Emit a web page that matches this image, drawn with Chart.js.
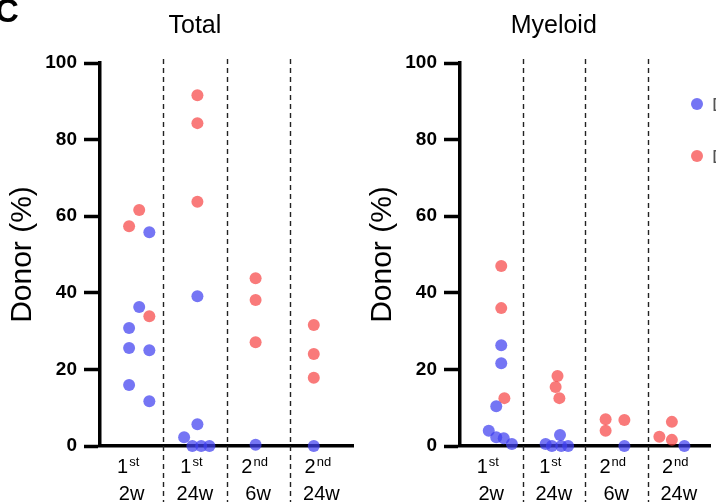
<!DOCTYPE html>
<html>
<head>
<meta charset="utf-8">
<script src="https://cdn.jsdelivr.net/npm/chart.js@4.4.0/dist/chart.umd.min.js"></script>
<style>
  html, body { margin: 0; padding: 0; background: #fff; }
  body { width: 716px; height: 502px; overflow: hidden; position: relative; }
  .panel { position: absolute; top: 0; height: 502px; }
  #totalPanel { left: 0; width: 360px; }
  #myeloidPanel { left: 360px; width: 356px; }
</style>
</head>
<body>
<div class="panel" id="totalPanel"><canvas id="totalChart" width="360" height="502"></canvas></div>
<div class="panel" id="myeloidPanel"><canvas id="myeloidChart" width="356" height="502"></canvas></div>
<script>
// x categories: transplant round (with ordinal suffix) and time point
const rounds = ["1", "1", "2", "2"];
const roundSuffix = ["st", "st", "nd", "nd"];
const weeks = ["2w", "24w", "6w", "24w"];
const yTicks = [0, 20, 40, 60, 80, 100];
const groupLabels = ["Donor A", "Donor B"];

// Total - blue group (category index, % donor, horizontal spread)
const totalBlueCat = [0, 0, 0, 0, 0, 0, 0, 1, 1, 1, 1, 1, 1, 2, 3];
const totalBlueVal = [55.8, 36.3, 30.8, 25.6, 25.0, 15.9, 11.7, 39.1, 5.7, 2.3, 0, 0, 0, 0.3, 0];
const totalBlueJit = [0.28, 0.12, -0.04, -0.04, 0.28, -0.04, 0.28, 0.04, 0.04, -0.17, -0.04, 0.1, 0.23, -0.04, -0.12];

// Total - red group
const totalRedCat = [0, 0, 0, 1, 1, 1, 2, 2, 2, 3, 3, 3];
const totalRedVal = [61.6, 57.4, 33.9, 91.6, 84.3, 63.8, 43.8, 38.1, 27.1, 31.6, 24.0, 17.8];
const totalRedJit = [0.12, -0.04, 0.28, 0.04, 0.04, 0.04, -0.04, -0.04, -0.04, -0.12, -0.12, -0.12];

// Myeloid - blue group
const myeBlueCat = [0, 0, 0, 0, 0, 0, 0, 1, 1, 1, 1, 1, 2, 3];
const myeBlueVal = [26.3, 21.6, 10.4, 4.0, 2.3, 2.0, 0.5, 2.9, 0.5, 0, 0, 0, 0, 0];
const myeBlueJit = [0.16, 0.16, 0.08, -0.04, 0.08, 0.2, 0.33, 0.1, -0.13, -0.03, 0.12, 0.23, 0.13, 0.09];

// Myeloid - red group
const myeRedCat = [0, 0, 0, 1, 1, 1, 2, 2, 2, 3, 3, 3];
const myeRedVal = [47.0, 36.0, 12.5, 18.3, 15.4, 12.5, 7.0, 4.0, 6.8, 6.3, 2.4, 1.6];
const myeRedJit = [0.16, 0.16, 0.21, 0.06, 0.03, 0.09, -0.17, -0.17, 0.13, -0.11, -0.31, -0.11];

const FONT = "'Liberation Sans', Arial, Helvetica, sans-serif";
const BLUE = "rgba(64,64,240,0.72)";
const RED = "rgba(246,66,66,0.7)";
const groupColors = [BLUE, RED];

function points(cats, vals, jit) {
  return vals.map((v, i) => ({ x: cats[i] + jit[i], y: v }));
}

const panelDecor = {
  id: "panelDecor",
  beforeDatasetsDraw(chart) {
    const { ctx, chartArea, scales: { x } } = chart;
    ctx.save();
    ctx.strokeStyle = "#222";
    ctx.lineWidth = 1.4;
    ctx.setLineDash([5, 4]);
    // dashed separators between groups
    for (let i = 1; i < weeks.length; i++) {
      const px = Math.round(x.getPixelForValue(i - 0.5)) + 0.5;
      ctx.beginPath();
      ctx.moveTo(px, chartArea.top - 4);
      ctx.lineTo(px, chart.height);
      ctx.stroke();
    }
    ctx.restore();
  },
  afterDraw(chart, args, opts) {
    const { ctx, chartArea, scales: { x } } = chart;
    ctx.save();
    ctx.fillStyle = "#000";
    ctx.textBaseline = "alphabetic";

    ctx.font = `25px ${FONT}`;
    ctx.textAlign = "center";
    ctx.fillText(opts.title, x.getPixelForValue(1), 33);

    // two-line category labels
    weeks.forEach((w, i) => {
      const cx = x.getPixelForValue(i);
      ctx.font = `20px ${FONT}`;
      const mainW = ctx.measureText(rounds[i]).width;
      ctx.font = `13px ${FONT}`;
      const supW = ctx.measureText(roundSuffix[i]).width;
      const left = cx - (mainW + supW) / 2 - 4;
      ctx.textAlign = "left";
      ctx.font = `20px ${FONT}`;
      ctx.fillText(rounds[i], left, chartArea.bottom + 27);
      ctx.font = `13px ${FONT}`;
      ctx.fillText(roundSuffix[i], left + mainW + 1, chartArea.bottom + 20);
      ctx.textAlign = "center";
      ctx.font = `20px ${FONT}`;
      ctx.fillText(w, cx, chartArea.bottom + 54);
    });

    if (opts.letter) {
      ctx.textAlign = "left";
      ctx.font = `bold 33px ${FONT}`;
      ctx.fillText(opts.letter, -5, 22);
    }

    if (opts.legend) {
      const lx = chartArea.right - 13;
      groupLabels.forEach((label, i) => {
        const ly = chartArea.top + 41 + i * 52;
        ctx.fillStyle = groupColors[i];
        ctx.beginPath();
        ctx.arc(lx, ly, 6, 0, Math.PI * 2);
        ctx.fill();
        ctx.fillStyle = "#555";
        ctx.textAlign = "left";
        ctx.font = `19px ${FONT}`;
        ctx.fillText(label, lx + 15, ly + 7);
      });
    }
    ctx.restore();
  }
};

function makePanel(id, title, blue, red, padRight, extra) {
  const ds = (data, color) => ({
    data,
    backgroundColor: color,
    borderWidth: 0,
    pointRadius: 6,
    pointHoverRadius: 6,
    clip: false
  });
  return new Chart(document.getElementById(id), {
    type: "scatter",
    data: { datasets: [ds(blue, BLUE), ds(red, RED)] },
    options: {
      responsive: false,
      animation: false,
      layout: { padding: { top: 63, right: padRight, left: 0, bottom: 0 } },
      plugins: {
        legend: { display: false },
        tooltip: { enabled: false },
        panelDecor: Object.assign({ title }, extra)
      },
      scales: {
        x: {
          type: "linear",
          min: -0.5,
          max: 3.5,
          ticks: { display: false },
          grid: { display: false },
          border: { color: "#000", width: 3.5 },
          afterFit: s => { s.height = 56; }
        },
        y: {
          min: 0,
          max: 100,
          afterBuildTicks: s => { s.ticks = yTicks.map(v => ({ value: v })); },
          ticks: { color: "#000", padding: 7, font: { family: FONT, size: 19, weight: "bold" } },
          grid: { drawOnChartArea: false, tickLength: 16, tickWidth: 3.5, tickColor: "#000" },
          border: { color: "#000", width: 3.5 },
          title: {
            display: true,
            text: "Donor (%)",
            color: "#000",
            font: { family: FONT, size: 30 },
            padding: { top: 5, bottom: 0 }
          },
          afterFit: s => { s.width = 100; }
        }
      }
    },
    plugins: [panelDecor]
  });
}

makePanel("totalChart", "Total",
  points(totalBlueCat, totalBlueVal, totalBlueJit),
  points(totalRedCat, totalRedVal, totalRedJit),
  7, { letter: "C" });

makePanel("myeloidChart", "Myeloid",
  points(myeBlueCat, myeBlueVal, myeBlueJit),
  points(myeRedCat, myeRedVal, myeRedJit),
  0, { legend: true });
</script>
</body>
</html>
